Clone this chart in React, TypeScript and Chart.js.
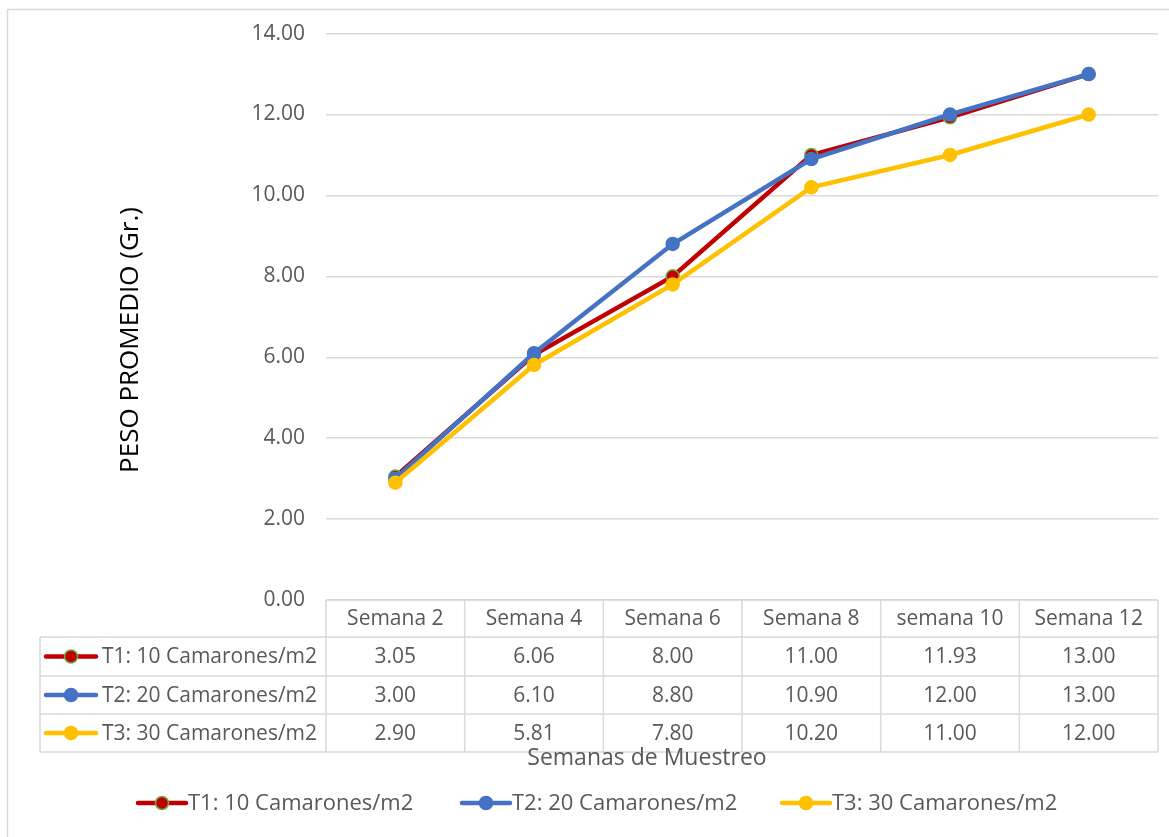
import React, { useEffect, useRef } from "react";
import { Chart, registerables } from "chart.js";

Chart.register(...registerables);

const categories = ["Semana 2", "Semana 4", "Semana 6", "Semana 8", "semana 10", "Semana 12"];
const seriesNames = ["T1: 10 Camarones/m2", "T2: 20 Camarones/m2", "T3: 30 Camarones/m2"];
const t1Values = [3.05, 6.06, 8.0, 11.0, 11.93, 13.0];
const t2Values = [3.0, 6.1, 8.8, 10.9, 12.0, 13.0];
const t3Values = [2.9, 5.81, 7.8, 10.2, 11.0, 12.0];
const yTicks = [0, 2, 4, 6, 8, 10, 12, 14];
const yTitle = "PESO PROMEDIO (Gr.)";
const xTitle = "Semanas de Muestreo";

const FONT = "'Open Sans', 'Noto Sans', sans-serif";
const TEXT = "#595959";
const GRID = "#d9d9d9";

const styles = [
  { line: "#C00000", fill: "#C00000", border: "#70AD47" },
  { line: "#4472C4", fill: "#4472C4", border: "#4472C4" },
  { line: "#FFC000", fill: "#FFC000", border: "#FFC000" },
];

function drawKey(ctx: CanvasRenderingContext2D, x1: number, x2: number, y: number, s: { line: string; fill: string; border: string }) {
  ctx.save();
  ctx.strokeStyle = s.line;
  ctx.lineWidth = 4.5;
  ctx.lineCap = "round";
  ctx.beginPath();
  ctx.moveTo(x1, y);
  ctx.lineTo(x2, y);
  ctx.stroke();
  ctx.beginPath();
  ctx.arc((x1 + x2) / 2, y, 6.5, 0, Math.PI * 2);
  ctx.fillStyle = s.fill;
  ctx.fill();
  ctx.lineWidth = 1.5;
  ctx.strokeStyle = s.border;
  ctx.stroke();
  ctx.restore();
}

const tablePlugin = {
  id: "tableAndDecor",
  afterDraw(chart: any) {
    const ctx: CanvasRenderingContext2D = chart.ctx;
    const area = chart.chartArea;
    const xs = chart.scales.x;
    const allValues = [t1Values, t2Values, t3Values];
    ctx.save();
    // outer frame
    ctx.strokeStyle = GRID;
    ctx.lineWidth = 1.5;
    ctx.beginPath();
    ctx.moveTo(7.5, 900);
    ctx.lineTo(7.5, 9.5);
    ctx.lineTo(1200, 9.5);
    ctx.stroke();

    // table geometry
    const colW = (area.right - area.left) / categories.length;
    const headerTop = area.bottom;
    const rowH = [37, 39, 38, 38];
    const rowsY: number[] = [headerTop];
    for (const h of rowH) rowsY.push(rowsY[rowsY.length - 1] + h);
    const tableLeft = 40;

    ctx.strokeStyle = GRID;
    ctx.lineWidth = 1.5;
    ctx.beginPath();
    ctx.moveTo(area.left, rowsY[0]);
    ctx.lineTo(area.right, rowsY[0]);
    for (let i = 1; i < rowsY.length; i++) {
      ctx.moveTo(tableLeft, rowsY[i]);
      ctx.lineTo(area.right, rowsY[i]);
    }
    for (let c = 0; c <= categories.length; c++) {
      const x = area.left + c * colW;
      ctx.moveTo(x, rowsY[0]);
      ctx.lineTo(x, rowsY[rowsY.length - 1]);
    }
    ctx.moveTo(tableLeft, rowsY[1]);
    ctx.lineTo(tableLeft, rowsY[rowsY.length - 1]);
    ctx.stroke();

    ctx.fillStyle = TEXT;
    ctx.font = `21px ${FONT}`;
    ctx.textAlign = "center";
    ctx.textBaseline = "middle";
    categories.forEach((c, i) => {
      const x = xs.getPixelForValue(i);
      ctx.fillText(c, x, (rowsY[0] + rowsY[1]) / 2 + 1);
    });
    allValues.forEach((vals, r) => {
      const yc = (rowsY[r + 1] + rowsY[r + 2]) / 2 + 1;
      vals.forEach((v, i) => {
        ctx.fillText(v.toFixed(2), xs.getPixelForValue(i), yc);
      });
      drawKey(ctx, 46, 96, yc - 1, styles[r]);
      ctx.textAlign = "left";
      ctx.fillText(seriesNames[r], 102, yc);
      ctx.textAlign = "center";
    });

    // x title
    ctx.font = `23px ${FONT}`;
    ctx.fillText(xTitle, 647, 758);

    // y title
    ctx.save();
    ctx.translate(131, 340);
    ctx.rotate(-Math.PI / 2);
    ctx.fillStyle = "#000000";
    ctx.font = `26px ${FONT}`;
    ctx.fillText(yTitle, 0, 0);
    ctx.restore();

    // legend
    const legendX = [138, 462, 782];
    ctx.font = `22px ${FONT}`;
    ctx.textAlign = "left";
    seriesNames.forEach((n, i) => {
      drawKey(ctx, legendX[i], legendX[i] + 48, 803, styles[i]);
      ctx.fillStyle = TEXT;
      ctx.fillText(n, legendX[i] + 50, 804);
    });
    ctx.restore();
  },
};

export default function App() {
  const ref = useRef<HTMLCanvasElement | null>(null);
  useEffect(() => {
    if (!ref.current) return;
    const data = [t1Values, t2Values, t3Values];
    const chart = new Chart(ref.current, {
      type: "line",
      data: {
        labels: categories,
        datasets: data.map((vals, i) => ({
          label: seriesNames[i],
          data: vals,
          borderColor: styles[i].line,
          backgroundColor: styles[i].fill,
          borderWidth: 4.5,
          pointRadius: 6.5,
          pointBorderWidth: 1.5,
          pointBackgroundColor: styles[i].fill,
          pointBorderColor: styles[i].border,
          tension: 0,
          order: 3 - i,
        })),
      },
      options: {
        animation: false,
        responsive: false,
        maintainAspectRatio: false,
        layout: { padding: { left: 0, right: 11, top: 31, bottom: 237 } },
        plugins: { legend: { display: false }, tooltip: { enabled: false } },
        scales: {
          x: { type: "category", offset: true, display: false },
          y: {
            min: 0,
            max: 14,
            afterBuildTicks: (scale: any) => {
              scale.ticks = yTicks.map((v) => ({ value: v }));
            },
            afterFit: (scale: any) => {
              scale.width = 326;
            },
            ticks: {
              callback: (v: any) => Number(v).toFixed(2),
              color: TEXT,
              font: { family: FONT, size: 21 },
              padding: 21,
            },
            grid: { color: GRID, lineWidth: 1.5, drawTicks: false },
            border: { display: false },
          },
        },
      },
      plugins: [tablePlugin],
    } as any);
    return () => chart.destroy();
  }, []);
  return (
    <div style={{ position: "fixed", left: 0, top: 0, width: 1169, height: 837, background: "#fff" }}>
      <canvas ref={ref} width={1169} height={837} style={{ width: 1169, height: 837 }} />
    </div>
  );
}
